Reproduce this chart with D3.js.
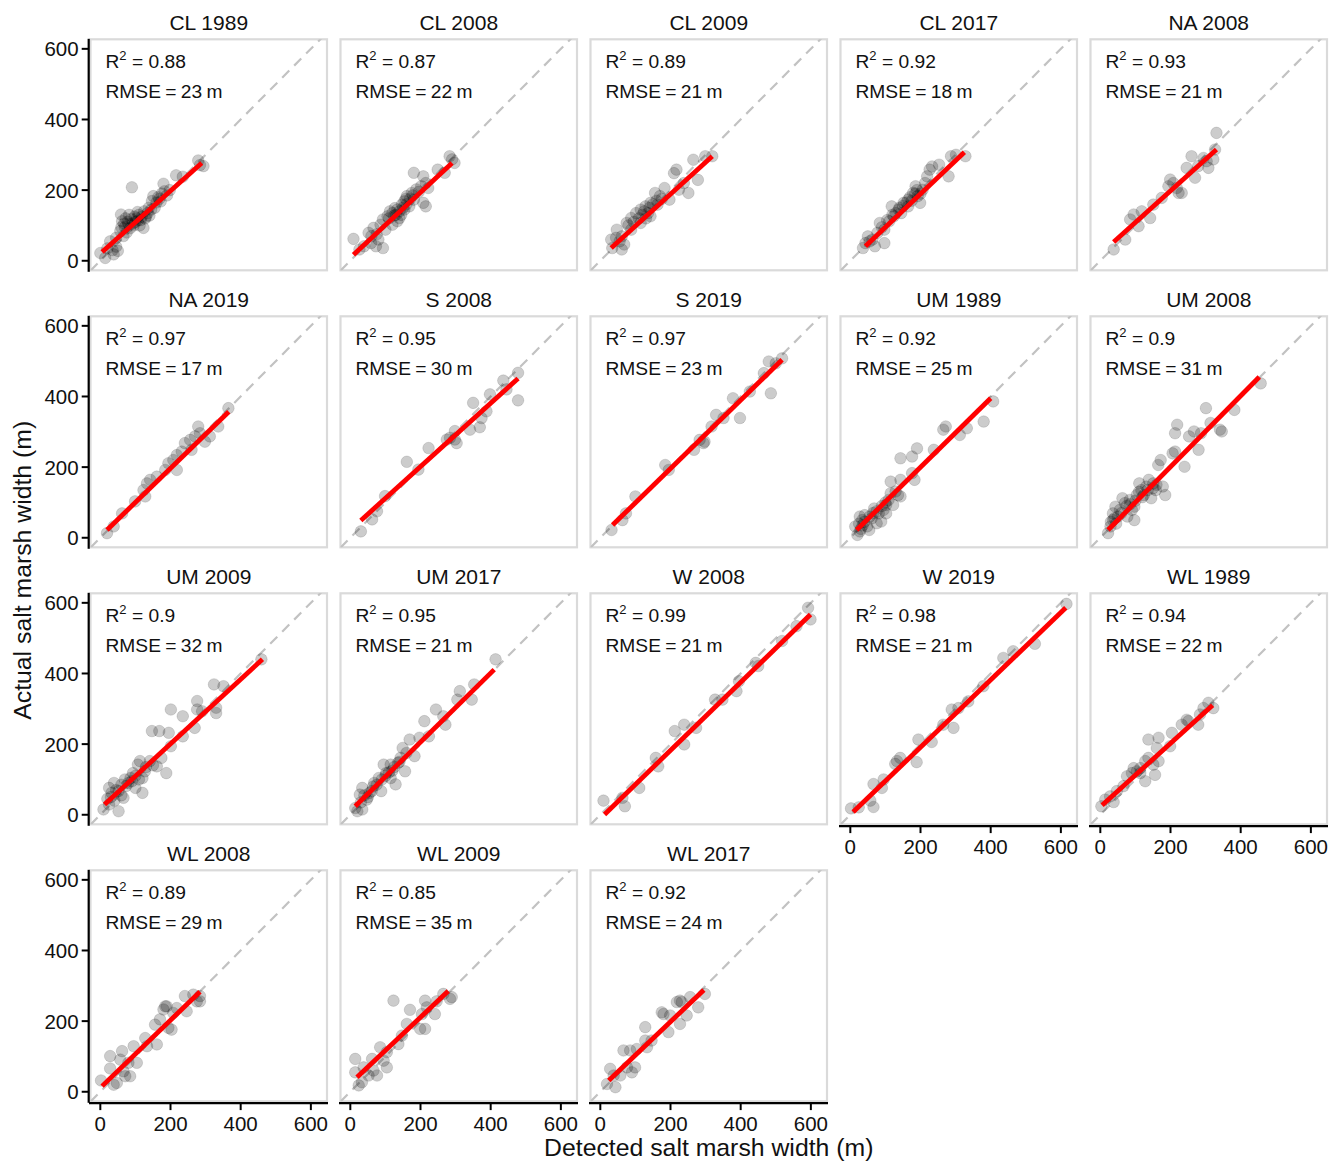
<!DOCTYPE html>
<html><head><meta charset="utf-8">
<script src="https://cdn.jsdelivr.net/npm/d3@7"></script>
<style>
body{margin:0;background:#fff}
text{font-family:"Liberation Sans",Arial,Helvetica,sans-serif;fill:#111}
</style></head>
<body><svg id="chart" width="1343" height="1163"></svg>
<script>
const panelNames = ["CL 1989","CL 2008","CL 2009","CL 2017","NA 2008","NA 2019","S 2008","S 2019","UM 1989","UM 2008","UM 2009","UM 2017","W 2008","W 2019","WL 1989","WL 2008","WL 2009","WL 2017"];
const r2Labels = ["0.88","0.87","0.89","0.92","0.93","0.97","0.95","0.97","0.92","0.9","0.9","0.95","0.99","0.98","0.94","0.89","0.85","0.92"];
const rmseLabels = ["23","22","21","18","21","17","30","23","25","31","32","21","21","21","22","29","35","24"];
const xTicks = [0,200,400,600];
const yTicks = [0,200,400,600];
const xTitle = "Detected salt marsh width (m)";
const yTitle = "Actual salt marsh width (m)";
// fitted line endpoints [x0, y0, x1, y1] (data units)
const fitLines = [
 [5,25,289,277],[9,17,290,277],[31,36,319,296],[43,41,325,307],[38,53,331,315],
 [19,22,366,357],[30,49,478,451],[35,36,518,504],[18,22,400,395],[22,22,453,455],
 [12,29,462,440],[14,24,410,411],[12,1,599,567],[8,8,614,586],[5,27,320,310],
 [5,16,284,283],[19,41,279,285],[24,32,295,288]
];
// points [detected, actual]
const ptsCL1989 = [[0,22],[14,8],[38,18],[28,55],[20,35],[45,40],[50,28],[57,84],[59,131],[62,112],[66,70],[70,95],[75,80],[80,105],[85,92],[88,118],[90,208],[95,100],[100,110],[106,138],[107,114],[112,100],[118,125],[123,93],[128,120],[135,135],[140,128],[147,169],[151,183],[155,150],[160,165],[168,175],[175,190],[180,218],[183,197],[190,185],[198,200],[216,242],[235,238],[279,284],[284,271],[294,268],[45,65],[35,30],[72,120],[98,125],[60,95],[78,110],[92,105],[104,120],[115,115],[130,125],[138,150],[145,145],[165,180],[172,168],[110,130],[82,130],[68,105],[125,140]];
const ptsCL2008 = [[9,62],[26,32],[39,41],[59,50],[80,60],[93,36],[73,41],[52,79],[66,93],[86,102],[93,117],[106,126],[120,135],[134,145],[147,159],[154,168],[161,183],[175,192],[188,202],[202,211],[181,173],[168,154],[140,121],[181,249],[208,239],[215,220],[222,206],[208,164],[215,154],[249,258],[269,249],[283,296],[290,287],[297,277],[113,140],[127,149],[154,145],[134,112],[100,88],[120,102],[110,120],[125,128],[140,140],[150,150],[160,160],[170,175],[130,130],[145,130],[158,175],[178,185],[195,195],[60,70],[75,75]];
const ptsCL2009 = [[31,60],[34,36],[47,88],[61,69],[68,46],[75,107],[88,121],[102,135],[115,145],[129,154],[136,135],[143,164],[156,192],[170,183],[183,206],[197,173],[210,248],[217,258],[224,201],[238,220],[251,192],[265,286],[278,229],[299,296],[319,296],[88,88],[115,107],[143,126],[61,32],[163,159],[95,110],[110,120],[120,130],[125,140],[140,150],[150,160],[160,170],[175,175],[130,120],[80,100],[55,55],[45,65]];
const ptsCL2017 = [[43,50],[36,36],[50,69],[63,60],[77,79],[84,107],[97,88],[111,112],[118,154],[124,126],[138,145],[152,164],[165,173],[186,211],[192,183],[199,164],[206,201],[219,239],[226,258],[233,267],[253,272],[280,239],[287,296],[301,300],[328,296],[97,50],[70,41],[165,154],[145,135],[179,192],[213,220],[130,135],[140,150],[150,155],[160,165],[170,180],[175,170],[185,190],[190,200],[200,190],[105,115],[90,95],[120,130],[55,55]];
const ptsNA2008 = [[38,32],[71,60],[85,117],[109,98],[118,140],[142,121],[151,159],[175,178],[199,230],[208,220],[223,192],[232,192],[218,206],[246,263],[260,296],[270,235],[279,268],[294,291],[308,263],[322,287],[327,315],[331,362],[194,211],[95,131],[303,282]];
const ptsNA2019 = [[19,13],[38,32],[62,69],[99,103],[123,135],[133,154],[142,164],[161,173],[185,192],[208,220],[218,234],[232,244],[241,268],[256,277],[270,287],[284,296],[298,272],[312,287],[336,315],[365,367],[218,192],[194,211],[260,249],[128,117],[279,315]];
const ptsS2008 = [[30,18],[62,52],[76,75],[99,118],[161,215],[194,193],[223,254],[275,278],[298,302],[303,268],[298,278],[341,306],[350,382],[369,313],[374,339],[388,358],[398,406],[436,445],[445,420],[478,467],[478,389],[284,283]];
const ptsS2019 = [[32,22],[63,50],[73,69],[100,117],[185,206],[195,192],[267,249],[294,268],[297,272],[317,315],[330,348],[351,339],[378,395],[398,339],[426,414],[466,466],[480,499],[486,409],[500,494],[518,508],[283,277]];
const ptsUM1989 = [[20,8],[27,18],[34,50],[41,64],[48,32],[61,55],[68,83],[81,69],[95,79],[102,93],[109,107],[115,126],[122,93],[129,131],[136,121],[143,164],[143,117],[115,159],[143,225],[176,230],[190,253],[183,164],[176,183],[238,249],[265,306],[272,315],[312,291],[332,310],[380,329],[407,386],[14,32],[54,22],[75,41],[88,46],[27,60],[102,69],[25,40],[35,35],[40,45],[55,60],[65,70],[75,75],[90,90],[100,100],[30,25]];
const ptsUM2008 = [[22,13],[29,32],[36,69],[43,88],[50,60],[56,79],[70,98],[77,60],[84,107],[90,79],[97,88],[104,121],[111,154],[117,135],[124,121],[131,145],[145,112],[151,154],[165,206],[172,220],[178,145],[185,121],[206,239],[213,244],[213,296],[219,320],[240,201],[253,287],[267,301],[280,249],[287,296],[301,367],[314,325],[341,306],[346,301],[382,362],[457,437],[63,112],[138,164],[158,135],[97,50],[36,50],[40,55],[60,70],[75,90],[85,95],[100,105],[110,130],[120,115],[135,135],[150,140],[160,150],[45,40],[30,45]];
const ptsUM2009 = [[9,15],[25,29],[52,10],[25,76],[32,62],[39,90],[52,67],[66,48],[73,81],[86,104],[93,118],[100,76],[113,152],[120,104],[120,62],[127,123],[141,152],[161,137],[174,161],[188,118],[147,237],[168,237],[195,232],[201,194],[201,298],[235,279],[235,222],[269,246],[276,322],[276,298],[290,293],[324,369],[330,288],[330,303],[351,364],[459,440],[107,142],[20,45],[30,50],[45,70],[60,85],[70,100],[80,90],[90,95],[100,110],[110,100],[130,135],[150,140],[40,40],[60,55]];
const ptsUM2017 = [[14,19],[20,10],[34,15],[27,57],[34,76],[47,43],[61,67],[68,90],[81,104],[88,67],[102,118],[115,142],[129,86],[143,161],[149,189],[156,123],[169,213],[183,166],[197,218],[211,265],[224,222],[244,298],[265,279],[271,255],[305,326],[312,350],[346,326],[353,369],[414,440],[115,104],[95,142],[136,147],[40,55],[55,62],[65,80],[75,85],[90,100],[100,110],[110,120],[120,125],[125,135],[140,150],[160,175],[30,35],[50,50]];
const ptsW2008 = [[9,40],[63,48],[70,24],[111,76],[158,161],[165,137],[212,237],[239,255],[239,199],[273,246],[327,326],[348,326],[395,378],[388,350],[443,430],[450,421],[518,492],[559,534],[592,586],[599,553]];
const ptsW2019 = [[2,18],[24,21],[57,40],[66,22],[66,87],[90,76],[95,100],[128,144],[142,161],[189,149],[194,213],[232,206],[265,255],[289,298],[294,246],[308,302],[336,321],[379,364],[436,444],[464,463],[526,484],[616,597],[133,152]];
const ptsWL1989 = [[3,24],[14,43],[28,52],[38,36],[66,81],[76,109],[90,118],[104,123],[114,118],[128,152],[128,95],[137,213],[137,161],[151,142],[156,113],[161,189],[166,218],[166,152],[199,194],[204,232],[232,255],[246,269],[251,265],[279,255],[284,284],[294,302],[308,317],[322,302],[95,132],[47,67],[114,132]];
const ptsWL2008 = [[2,32],[28,101],[28,66],[38,20],[47,25],[57,91],[62,115],[66,58],[71,44],[80,82],[85,44],[95,129],[104,82],[128,152],[133,129],[156,190],[161,134],[170,205],[185,242],[189,242],[180,233],[194,181],[203,176],[208,223],[218,237],[241,271],[246,228],[275,256],[284,256],[265,275],[284,271]];
const ptsWL2009 = [[14,93],[14,55],[24,18],[33,27],[38,69],[52,46],[62,93],[66,60],[76,46],[85,126],[95,88],[104,69],[104,112],[123,258],[137,135],[147,159],[161,192],[170,232],[199,178],[213,178],[204,220],[213,258],[218,239],[241,220],[246,256],[265,277],[284,263],[289,268]];
const ptsWL2017 = [[19,22],[28,65],[38,46],[43,13],[57,46],[66,117],[76,69],[85,117],[90,55],[99,69],[104,121],[128,145],[128,183],[133,126],[175,225],[180,220],[194,169],[218,254],[227,258],[232,254],[227,192],[246,216],[256,268],[279,239],[298,277],[199,216],[146,145]];
const panelPoints = [ptsCL1989,ptsCL2008,ptsCL2009,ptsCL2017,ptsNA2008,ptsNA2019,ptsS2008,ptsS2019,ptsUM1989,ptsUM2008,ptsUM2009,ptsUM2017,ptsW2008,ptsW2019,ptsWL1989,ptsWL2008,ptsWL2009,ptsWL2017];

const xDomain = [-28, 646], yDomain = [-27, 627];
const nCol = 5, left0 = 90.5, colStep = 250, panelW = 236.5, top0 = 39.3, rowStep = 277, panelH = 231;

const svg = d3.select("#chart");
svg.append("rect").attr("width",1343).attr("height",1163).attr("fill","#fff");
const defs = svg.append("defs");

panelNames.forEach((name, i) => {
  const col = i % nCol, row = Math.floor(i / nCol);
  const L = left0 + col*colStep, T = top0 + row*rowStep;
  const x = d3.scaleLinear().domain(xDomain).range([L, L+panelW]);
  const y = d3.scaleLinear().domain(yDomain).range([T+panelH, T]);
  const g = svg.append("g");
  const cid = "clip"+i;
  defs.append("clipPath").attr("id",cid).append("rect").attr("x",L).attr("y",T).attr("width",panelW).attr("height",panelH);

  g.append("rect").attr("x",L).attr("y",T).attr("width",panelW).attr("height",panelH)
    .attr("fill","none").attr("stroke","#dadada").attr("stroke-width",2.2);

  const inner = g.append("g").attr("clip-path",`url(#${cid})`);
  const lo = Math.min(xDomain[0], yDomain[0]), hi = Math.max(xDomain[1], yDomain[1]);
  inner.append("line").attr("x1",x(lo)).attr("y1",y(lo)).attr("x2",x(hi)).attr("y2",y(hi))
    .attr("stroke","#c2c2c2").attr("stroke-width",2.2).attr("stroke-dasharray","10,7");

  inner.selectAll("circle").data(panelPoints[i]).join("circle")
    .attr("cx",d=>x(d[0])).attr("cy",d=>y(d[1])).attr("r",5.8)
    .attr("fill","#000").attr("fill-opacity",0.2)
    .attr("stroke","#000").attr("stroke-opacity",0.12).attr("stroke-width",1);

  const f = fitLines[i];
  inner.append("line").attr("x1",x(f[0])).attr("y1",y(f[1])).attr("x2",x(f[2])).attr("y2",y(f[3]))
    .attr("stroke","#ff0000").attr("stroke-width",4.8);

  // strip title
  g.append("text").attr("x",L+panelW/2).attr("y",T-9.5).attr("text-anchor","middle")
    .attr("font-size",21).text(name);

  // annotations
  const t1 = g.append("text").attr("x",L+15).attr("y",T+29).attr("font-size",19.2);
  t1.append("tspan").text("R");
  t1.append("tspan").attr("font-size",13).attr("dy",-8).text("2");
  t1.append("tspan").attr("dy",8).text(" = " + r2Labels[i]);
  g.append("text").attr("x",L+15).attr("y",T+59).attr("font-size",19.2).attr("word-spacing",-1)
    .text("RMSE = " + rmseLabels[i] + " m");

  // y axis on first column
  if (col === 0) {
    const ax = L - 1.8;
    g.append("line").attr("x1",ax).attr("x2",ax).attr("y1",T-0.5).attr("y2",T+panelH+1.5)
      .attr("stroke","#000").attr("stroke-width",2.2);
    yTicks.forEach(v => {
      g.append("line").attr("x1",ax-7).attr("x2",ax).attr("y1",y(v)).attr("y2",y(v))
        .attr("stroke","#000").attr("stroke-width",2);
      g.append("text").attr("x",ax-10).attr("y",y(v)).attr("dy","0.36em")
        .attr("text-anchor","end").attr("font-size",20.5).text(v);
    });
  }
  // x axis on bottom panel of each column
  if (i + nCol >= panelNames.length) {
    const ay = T + panelH + 1.8;
    g.append("line").attr("x1",L-1.5).attr("x2",L+panelW+1).attr("y1",ay).attr("y2",ay)
      .attr("stroke","#000").attr("stroke-width",2.2);
    xTicks.forEach(v => {
      g.append("line").attr("x1",x(v)).attr("x2",x(v)).attr("y1",ay).attr("y2",ay+7)
        .attr("stroke","#000").attr("stroke-width",2);
      g.append("text").attr("x",x(v)).attr("y",ay+28).attr("text-anchor","middle")
        .attr("font-size",20.5).text(v);
    });
  }
});

const plotLeft = left0, plotRight = left0 + 4*colStep + panelW;
const plotTop = top0, plotBottom = top0 + 3*rowStep + panelH;
svg.append("text").attr("x",(plotLeft+plotRight)/2).attr("y",1156).attr("text-anchor","middle")
  .attr("font-size",24.8).text(xTitle);
svg.append("text").attr("transform",`translate(31,${(plotTop+plotBottom)/2}) rotate(-90)`)
  .attr("text-anchor","middle").attr("font-size",24.8).text(yTitle);
</script></body></html>
